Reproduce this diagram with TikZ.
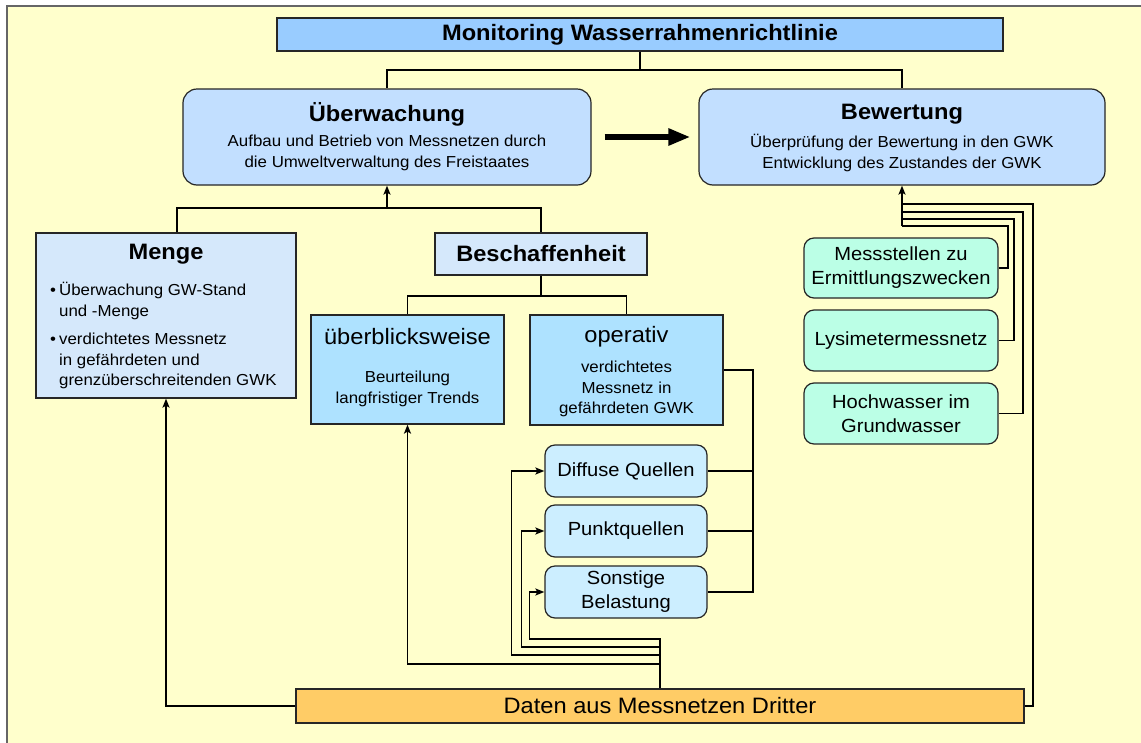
\documentclass[tikz,border=0pt]{standalone}
\usepackage{fontspec}
\setmainfont{Liberation Sans}[FakeStretch=1.06]
\usetikzlibrary{arrows.meta}
\definecolor{bgY}{HTML}{FFFFCC}
\definecolor{titleB}{HTML}{99CCFF}
\definecolor{mainB}{HTML}{C2DFFF}
\definecolor{mengeB}{HTML}{D5E8FB}
\definecolor{skyB}{HTML}{AEE2FF}
\definecolor{paleB}{HTML}{CCEEFF}
\definecolor{mint}{HTML}{BBFFE6}
\definecolor{orangeY}{HTML}{FFCC66}
\newcommand\fT{\fontsize{22.3}{24}\selectfont\bfseries}
\newcommand\fR{\fontsize{22.3}{24}\selectfont}
\newcommand\fS{\fontsize{15.9}{20.5}\selectfont}
\newcommand\fM{\fontsize{19}{24}\selectfont}
\begin{document}
\begin{tikzpicture}[x=1pt,y=-1pt,
  box/.style={draw=black!85, line width=1.2pt, inner sep=0pt},
  rbox/.style={box, rounded corners=10pt},
  txt/.style={inner sep=0pt, align=center},
  conn/.style={line width=1.8pt, black},
  arr/.style={conn, -{Stealth[length=9pt,width=7pt,inset=2pt]}},
  fat/.style={line width=6pt, black, -{Triangle[length=22pt,width=16pt]}}]
\useasboundingbox (0,0) rectangle (1141,742);
\clip (0,0) rectangle (1141,742);
\fill[white] (0,0) rectangle (1141,742);
\fill[bgY] (7,6) rectangle (1160,760);
\draw[line width=1.2pt, black!60] (7,760) -- (7,6) -- (1160,6);

% nodes
\node[box, fill=titleB, minimum width=726pt, minimum height=33pt, font=\fT] (title) at (640,34.5) {Monitoring Wasserrahmenrichtlinie};

\node[box, rounded corners=14pt, fill=mainB, minimum width=408pt, minimum height=96pt] (ueb) at (387,137) {};
\node[txt, font=\fT] (uebT) at (387,114) {Überwachung};
\node[txt, font=\fS] (uebD) at (387,153) {Aufbau und Betrieb von Messnetzen durch\\die Umweltverwaltung des Freistaates};

\node[box, rounded corners=14pt, fill=mainB, minimum width=406pt, minimum height=96pt] (bew) at (902,137) {};
\node[txt, font=\fT] (bewT) at (902,114) {Bewertung};
\node[txt, font=\fS] (bewD) at (902,153) {Überprüfung der Bewertung in den GWK\\Entwicklung des Zustandes der GWK};

\node[box, fill=mengeB, minimum width=260pt, minimum height=165pt] (menge) at (166,315.5) {};
\node[txt, font=\fT] (mengeT) at (166,254) {Menge};
\node[txt, align=left, font=\fS, anchor=west] (mengeB1) at (50,301) {\makebox[9pt][l]{•}Überwachung GW-Stand\\\hspace*{9pt}und -Menge};
\node[txt, align=left, font=\fS, anchor=west] (mengeB2) at (50,361) {\makebox[9pt][l]{•}verdichtetes Messnetz\\\hspace*{9pt}in gefährdeten und\\\hspace*{9pt}grenzüberschreitenden GWK};

\node[box, fill=mengeB, minimum width=212pt, minimum height=42pt, font=\fT] (besch) at (541,254) {Beschaffenheit};

\node[box, fill=skyB, minimum width=193pt, minimum height=109pt] (ov) at (407.5,369.5) {};
\node[txt, font=\fR] (ovT) at (407.5,337) {überblicksweise};
\node[txt, font=\fS] (ovD) at (407.5,389) {Beurteilung\\langfristiger Trends};

\node[box, fill=skyB, minimum width=193pt, minimum height=110pt] (op) at (626.5,370) {};
\node[txt, font=\fR] (opT) at (626.5,337) {operativ};
\node[txt, font=\fS] (opD) at (626.5,389) {verdichtetes\\Messnetz in\\gefährdeten GWK};

\node[rbox, fill=paleB, minimum width=162pt, minimum height=52pt, font=\fM, align=center] (diff) at (626,471) {Diffuse Quellen};
\node[rbox, fill=paleB, minimum width=162pt, minimum height=52pt, font=\fM, align=center] (punkt) at (626,531) {Punktquellen};
\node[rbox, fill=paleB, minimum width=162pt, minimum height=52pt, font=\fM, align=center] (sonst) at (626,592) {Sonstige\\Belastung};

\node[rbox, fill=mint, minimum width=194pt, minimum height=60pt, font=\fM, align=center] (mess) at (901,268) {Messstellen zu\\Ermittlungszwecken};
\node[rbox, fill=mint, minimum width=194pt, minimum height=61pt, font=\fM, align=center] (lysi) at (901,340.5) {Lysimetermessnetz};
\node[rbox, fill=mint, minimum width=194pt, minimum height=61pt, font=\fM, align=center] (hoch) at (901,413.5) {Hochwasser im\\Grundwasser};

\node[box, fill=orangeY, minimum width=728pt, minimum height=34pt, font=\fR] (daten) at (660,706) {Daten aus Messnetzen Dritter};

% junctions
\coordinate (j1) at (640,70);
\coordinate (j2) at (387,208);
\coordinate (j3) at (541,296);
\coordinate (busR) at (753,0);
\coordinate (h1) at (0,639);
\coordinate (h2) at (0,647);
\coordinate (h3) at (0,655);
\coordinate (h4) at (0,664);
\coordinate (vR) at (1033,204);
\coordinate (cH) at (1023,212);
\coordinate (cL) at (1014,219);
\coordinate (cM) at (1008,226);

% connectors
\draw[conn] (title.south) -- (j1) -| (ueb.north);
\draw[conn] (j1) -| (bew.north);
\draw[fat] ([xshift=13pt]ueb.east) -- ([xshift=-8pt]bew.west);

\draw[conn] ([xshift=11pt]menge.north) |- (j2) -| (besch.north);
\draw[arr] (j2) -- (ueb.south);
\draw[conn] (besch.south) -- (j3);
\draw[conn] (ov.north) |- (j3) -| (op.north);

\draw[conn] (op.east) -- (op.east -| busR) |- (sonst.east);
\draw[conn] (diff.east) -- (diff.east -| busR);
\draw[conn] (punkt.east) -- (punkt.east -| busR);

\draw[arr] (daten.north) -- (daten.north |- h1) -| ([xshift=-15pt]sonst.west) -- (sonst.west);
\draw[arr] (daten.north |- h2) -| ([xshift=-23pt]punkt.west) -- (punkt.west);
\draw[arr] (daten.north |- h3) -| ([xshift=-33pt]diff.west) -- (diff.west);
\draw[arr] (daten.north |- h4) -| (ov.south);
\draw[conn] (daten.north |- h1) -- (daten.north |- h4);
\draw[arr] (daten.west) -| (menge.south);

\draw[conn] (daten.east) -| (vR) -- (vR -| bew.south);
\draw[conn] (hoch.east) -| (cH) -- (cH -| bew.south);
\draw[conn] (lysi.east) -| (cL) -- (cL -| bew.south);
\draw[conn] (mess.east) -| (cM) -- (cM -| bew.south);
\draw[arr] (cM -| bew.south) -- (bew.south);
\end{tikzpicture}
\end{document}
